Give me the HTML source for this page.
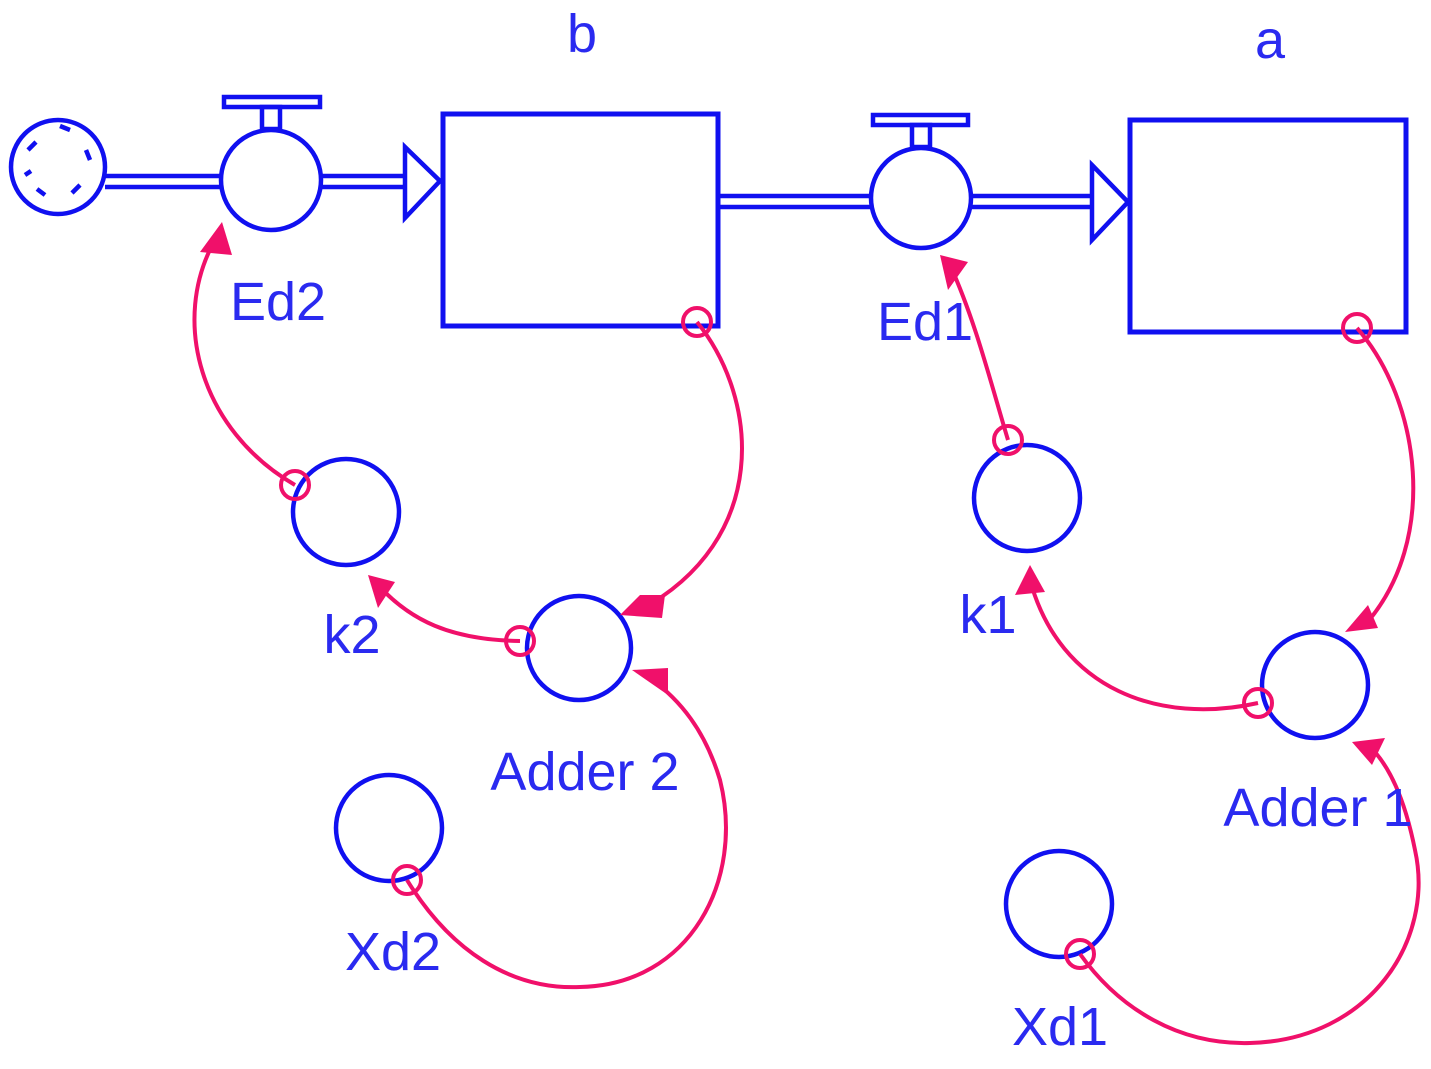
<!DOCTYPE html>
<html><head><style>
html,body{margin:0;padding:0;background:#fff;width:1431px;height:1069px;overflow:hidden}
svg{display:block}
text{font-family:"Liberation Sans",sans-serif;font-size:54px;fill:#2a2af0}
</style></head><body>
<svg width="1431" height="1069" viewBox="0 0 1431 1069">
<g fill="none" stroke="#1010f0" stroke-width="4.5">
<circle cx="58" cy="167" r="47"/>
<path d="M28 150 l8 -8 M60 126 l10 4 M86 150 l4 10 M80 185 l-8 8 M45 195 l-8 -6 M25 175 l6 -4"/>
<line x1="105" y1="176" x2="222" y2="176"/><line x1="105" y1="187" x2="222" y2="187"/>
<circle cx="271" cy="180" r="50"/>
<rect x="224" y="97" width="96" height="10"/>
<rect x="262" y="107" width="18" height="22"/>
<line x1="320" y1="176" x2="405" y2="176"/><line x1="320" y1="187" x2="405" y2="187"/>
<path d="M405 147 L440 181 L405 218 Z"/>
<rect x="443" y="114" width="275" height="212" stroke-width="5"/>
<line x1="718" y1="196" x2="870" y2="196"/><line x1="718" y1="207" x2="870" y2="207"/>
<circle cx="921" cy="198" r="50"/>
<rect x="873" y="115" width="95" height="10"/>
<rect x="912" y="125" width="18" height="22"/>
<line x1="972" y1="196" x2="1092" y2="196"/><line x1="972" y1="207" x2="1092" y2="207"/>
<path d="M1092 165 L1128 202 L1092 240 Z"/>
<rect x="1130" y="120" width="276" height="212" stroke-width="5"/>
<circle cx="346" cy="512" r="53"/>
<circle cx="579" cy="648" r="52"/>
<circle cx="389" cy="828" r="53"/>
<circle cx="1027" cy="498" r="53"/>
<circle cx="1315" cy="685" r="53"/>
<circle cx="1059" cy="904" r="53"/>
</g>
<g fill="none" stroke="#f0106a" stroke-width="4">
<path d="M697 322 C760 400 770 540 640 610"/>
<path d="M295 485 C200 430 170 320 215 240"/>
<path d="M520 641 C450 640 410 620 378 585"/>
<path d="M407 880 C450 950 510 990 580 987 C690 985 745 880 720 780 C705 730 680 700 650 678"/>
<path d="M1357 328 C1420 400 1440 540 1365 625"/>
<path d="M1008 440 C990 380 975 320 950 265"/>
<path d="M1258 703 C1160 725 1060 690 1030 580"/>
<path d="M1080 954 C1120 1010 1180 1045 1250 1043 C1370 1040 1435 940 1415 850 C1405 800 1390 765 1368 745"/>
<circle cx="697" cy="322" r="14"/>
<circle cx="295" cy="485" r="14"/>
<circle cx="520" cy="641" r="14"/>
<circle cx="407" cy="880" r="14"/>
<circle cx="1357" cy="328" r="14"/>
<circle cx="1008" cy="440" r="14"/>
<circle cx="1258" cy="703" r="14"/>
<circle cx="1080" cy="954" r="14"/>
</g>
<g fill="#f0106a">
<path d="M640 595 L665 595 L662 618 L620 615 Z"/>
<path d="M200 252 L232 255 L222 222 Z"/>
<path d="M368 575 L395 582 L378 608 Z"/>
<path d="M632 670 L668 668 L668 695 Z"/>
<path d="M1345 632 L1378 628 L1368 605 Z"/>
<path d="M940 255 L968 262 L948 290 Z"/>
<path d="M1015 595 L1045 592 L1030 565 Z"/>
<path d="M1352 742 L1385 738 L1372 765 Z"/>
</g>
<text x="582" y="52" text-anchor="middle">b</text>
<text x="1270" y="58" text-anchor="middle">a</text>
<text x="278" y="320" text-anchor="middle">Ed2</text>
<text x="925" y="340" text-anchor="middle">Ed1</text>
<text x="352" y="653" text-anchor="middle">k2</text>
<text x="988" y="633" text-anchor="middle">k1</text>
<text x="585" y="790" text-anchor="middle">Adder 2</text>
<text x="1318" y="826" text-anchor="middle">Adder 1</text>
<text x="393" y="970" text-anchor="middle">Xd2</text>
<text x="1060" y="1045" text-anchor="middle">Xd1</text>
</svg>
</body></html>
